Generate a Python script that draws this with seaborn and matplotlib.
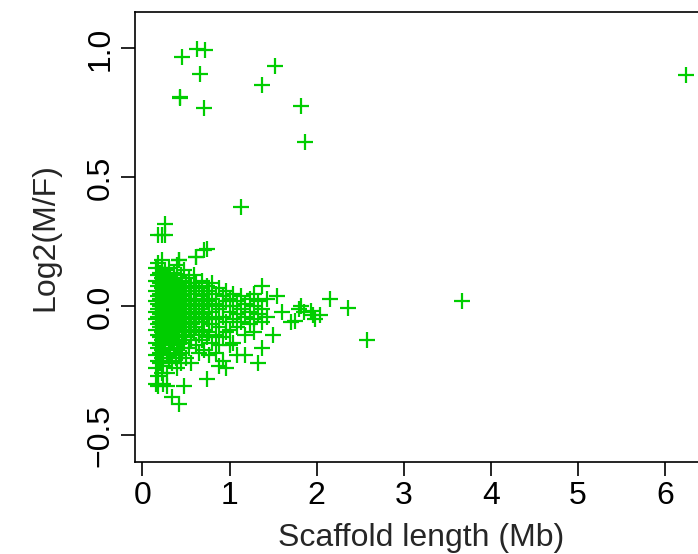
import matplotlib
matplotlib.use("Agg")
import matplotlib.pyplot as plt
import seaborn as sns
import pandas as pd

# ---- data: scaffold length (Mb) and log2(M/F) ----
cluster_x = (
    [0.16] * 11 + [0.18] * 13 + [0.20] * 12 + [0.22] * 12 + [0.24] * 11 +
    [0.26] * 9 + [0.28] * 11 + [0.30] * 9 + [0.32] * 8 + [0.34] * 9 +
    [0.36] * 7 + [0.38] * 7 + [0.40] * 9 + [0.42] * 9 + [0.44] * 7 +
    [0.46] * 6 + [0.48] * 7 + [0.50] * 6 + [0.53] * 6 + [0.56] * 6 +
    [0.59] * 5 + [0.62] * 6 + [0.65] * 5 + [0.68] * 5 + [0.71] * 6 +
    [0.74] * 5 + [0.77] * 5 + [0.80] * 5 + [0.84] * 5 + [0.88] * 5 +
    [0.92] * 5 + [0.96] * 5 + [1.00] * 4 + [1.04] * 4 + [1.08] * 4 +
    [1.13] * 3 + [1.18] * 4 + [1.23] * 3 + [1.28] * 4 + [1.33] * 3 +
    [1.37] * 4 + [1.43] * 2
)
cluster_y = [
    0.15, 0.10, 0.06, 0.02, -0.02, -0.05, -0.09, -0.14, -0.19, -0.24, -0.30,
    0.17, 0.12, 0.08, 0.04, 0.01, -0.01, -0.04, -0.07, -0.11, -0.16, -0.21, -0.27, -0.31,
    0.13, 0.09, 0.05, 0.03, 0.00, -0.03, -0.06, -0.08, -0.12, -0.15, -0.18, -0.22,
    0.15, 0.11, 0.07, 0.02, -0.01, -0.04, -0.07, -0.10, -0.13, -0.17, -0.20, -0.26,
    0.12, 0.08, 0.04, 0.01, -0.02, -0.05, -0.09, -0.14, -0.18, -0.23, -0.30,
    0.14, 0.10, 0.06, 0.03, 0.00, -0.03, -0.06, -0.11, -0.16,
    0.11, 0.07, 0.05, 0.02, -0.01, -0.04, -0.08, -0.12, -0.19, -0.26, -0.31,
    0.15, 0.09, 0.04, 0.00, -0.02, -0.05, -0.10, -0.15, -0.21,
    0.12, 0.06, 0.03, -0.01, -0.04, -0.07, -0.13, -0.18,
    0.10, 0.05, 0.01, -0.03, -0.06, -0.09, -0.14, -0.22, -0.35,
    0.13, 0.07, 0.02, -0.02, -0.05, -0.11, -0.17,
    0.09, 0.04, 0.00, -0.03, -0.08, -0.12, -0.20,
    0.16, 0.11, 0.05, 0.01, -0.02, -0.06, -0.10, -0.15, -0.24,
    0.18, 0.08, 0.03, -0.01, -0.04, -0.09, -0.13, -0.19, -0.38,
    0.12, 0.06, 0.02, -0.03, -0.07, -0.16, -0.22,
    0.10, 0.04, 0.00, -0.05, -0.11, -0.18,
    0.14, 0.07, 0.01, -0.02, -0.08, -0.14, -0.31,
    0.09, 0.03, -0.01, -0.06, -0.12, -0.20,
    0.11, 0.05, 0.00, -0.04, -0.09, -0.16,
    0.08, 0.02, -0.03, -0.07, -0.13, -0.22,
    0.12, 0.06, 0.01, -0.05, -0.10,
    0.19, 0.09, 0.03, -0.02, -0.08, -0.15,
    0.07, 0.00, -0.04, -0.11, -0.18,
    0.10, 0.04, -0.01, -0.06, -0.13,
    0.22, 0.05, 0.01, -0.03, -0.09, -0.17,
    0.08, 0.02, -0.05, -0.12, -0.28,
    0.06, 0.00, -0.04, -0.10, -0.19,
    0.09, 0.03, -0.02, -0.07, -0.14,
    0.05, 0.01, -0.05, -0.11, -0.18,
    0.07, -0.01, -0.08, -0.15, -0.23,
    0.04, 0.00, -0.04, -0.12, -0.21,
    0.06, 0.02, -0.06, -0.10, -0.24,
    0.03, -0.02, -0.09, -0.15,
    0.05, 0.00, -0.05, -0.14,
    0.02, -0.03, -0.08, -0.19,
    0.04, -0.01, -0.06,
    0.01, -0.04, -0.11, -0.19,
    0.03, -0.02, -0.07,
    0.05, 0.00, -0.05, -0.10,
    0.02, -0.03, -0.22,
    0.08, -0.01, -0.06, -0.16,
    0.03, -0.04,
]

tail_x = [1.50, 1.54, 1.60, 1.70, 1.75, 1.80, 1.82, 1.85, 1.94, 1.96, 1.98,
          2.04, 2.15, 2.36, 2.58, 3.67]
tail_y = [-0.11, 0.04, -0.02, -0.06, -0.057, -0.01, 0.00, -0.02, -0.016, -0.035,
          -0.047, -0.035, 0.027, -0.005, -0.132, 0.02]

high_x = [0.456, 0.624, 0.713, 0.659, 0.433, 0.437, 0.705, 1.517, 1.368, 1.82,
          1.87, 1.13, 0.261, 0.184, 0.226, 0.261, 0.42, 0.23, 0.61, 0.74, 6.24]
high_y = [0.965, 0.997, 0.993, 0.902, 0.813, 0.806, 0.768, 0.931, 0.858, 0.777,
          0.636, 0.386, 0.320, 0.276, 0.276, 0.276, 0.179, 0.179, 0.19, 0.224, 0.897]

x_ticks = [0, 1, 2, 3, 4, 5, 6]
y_ticks = [-0.5, 0.0, 0.5, 1.0]
y_tick_labels = ["\u22120.5", "0.0", "0.5", "1.0"]

df = pd.DataFrame({
    "length": cluster_x + tail_x + high_x,
    "log2": cluster_y + tail_y + high_y,
})

sns.set_theme(style="white")
plt.rcParams["font.family"] = ["Liberation Sans", "DejaVu Sans"]

fig = plt.figure(figsize=(6.98, 5.54), dpi=100)
ax = fig.add_axes([135 / 698, 1 - 462 / 554, (707 - 135) / 698, (462 - 12) / 554])

sns.scatterplot(data=df, x="length", y="log2", ax=ax, marker="+", s=130,
                color="#00CD00", linewidth=1.6, legend=False)

ax.set_xlim(-0.085, 6.48)
ax.set_ylim(-0.603, 1.141)
ax.set_xticks(x_ticks)
ax.set_xticklabels([str(t) for t in x_ticks])
ax.set_yticks(y_ticks)
ax.set_yticklabels(y_tick_labels, rotation=90, va="center")

for s in ax.spines.values():
    s.set_visible(True)
    s.set_color("black")
    s.set_linewidth(1.2)

ax.tick_params(axis="both", direction="out", length=10, width=1.2, color="black",
               labelsize=23, labelcolor="black", bottom=True, left=True)
ax.tick_params(axis="x", pad=4)
ax.tick_params(axis="y", pad=4)

ax.set_xlabel("Scaffold length (Mb)", fontsize=23, labelpad=8)
ax.set_ylabel("Log2(M/F)", fontsize=23, labelpad=18)

fig.savefig("out.png", dpi=100)
